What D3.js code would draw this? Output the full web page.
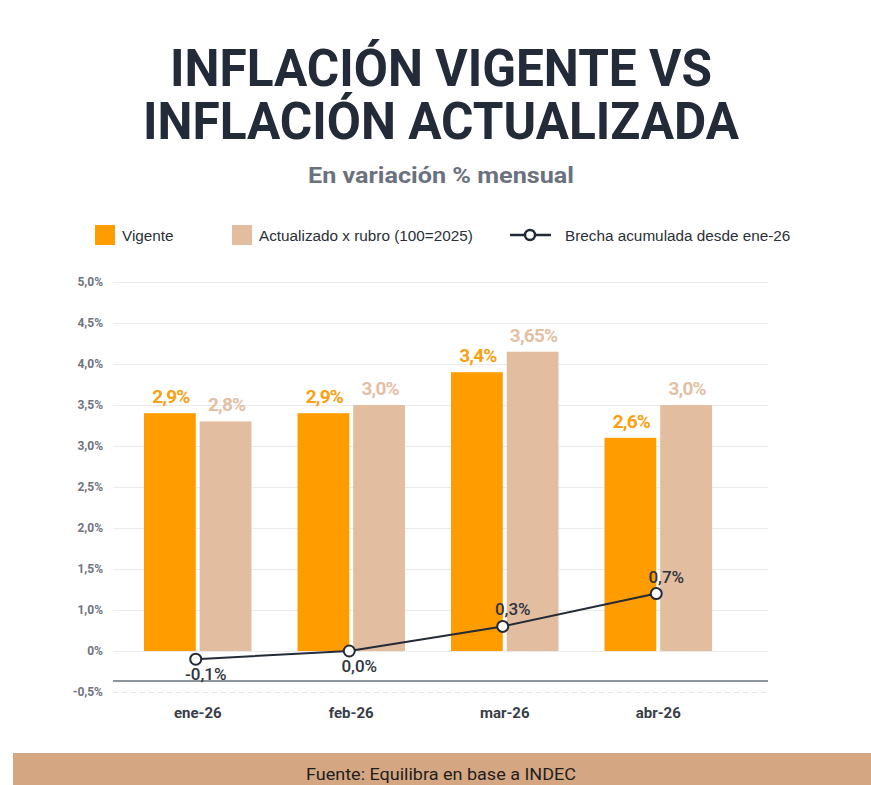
<!DOCTYPE html>
<html>
<head>
<meta charset="utf-8">
<script src="https://cdn.jsdelivr.net/npm/d3@7"></script>
<style>
  html, body { margin: 0; padding: 0; background: #fff; }
  svg { display: block; }
</style>
</head>
<body>
<div id="chart"></div>
<script>
// data
const months = ["ene-26", "feb-26", "mar-26", "abr-26"];
const vigente = [2.9, 2.9, 3.4, 2.6];
const actualizado = [2.8, 3.0, 3.65, 3.0];
const brecha = [-0.1, 0.0, 0.3, 0.7];
const seriesNames = ["Vigente", "Actualizado x rubro (100=2025)"];
const lineName = "Brecha acumulada desde ene-26";
// tick positions and the labels the original prints next to them
const tickValues = [-0.5, 0, 0.5, 1, 1.5, 2, 2.5, 3, 3.5, 4, 4.5];
const tickLabels = ["-0,5%", "0%", "1,0%", "1,5%", "2,0%", "2,5%", "3,0%", "3,5%", "4,0%", "4,5%", "5,0%"];

const width = 871, height = 785;
const colors = ["#ff9c00", "#e3bd9f"];
const labelColors = ["#f9a010", "#e3c0a4"];
const dark = "#232a38";

const svg = d3.select("#chart").append("svg")
    .attr("width", width)
    .attr("height", height);

svg.append("rect").attr("width", width).attr("height", height).attr("fill", "#fff");

// title
svg.append("text")
    .attr("x", 441).attr("y", 86)
    .attr("text-anchor", "middle")
    .attr("textLength", 542).attr("lengthAdjust", "spacingAndGlyphs")
    .style("font", "700 52px Roboto")
    .attr("fill", dark)
    .text("INFLACIÓN VIGENTE VS");
svg.append("text")
    .attr("x", 441).attr("y", 139)
    .attr("text-anchor", "middle")
    .attr("textLength", 596).attr("lengthAdjust", "spacingAndGlyphs")
    .style("font", "700 52px Roboto")
    .attr("fill", dark)
    .text("INFLACIÓN ACTUALIZADA");
svg.append("text")
    .attr("x", 441).attr("y", 183)
    .attr("text-anchor", "middle")
    .attr("textLength", 266).attr("lengthAdjust", "spacingAndGlyphs")
    .style("font", "700 22px Roboto")
    .attr("fill", "#6b717d")
    .text("En variación % mensual");

// legend
const legend = svg.append("g").style("font", "15.3px 'Liberation Sans', Arial, sans-serif").attr("fill", "#2b2f36");
[95, 232].forEach((lx, i) => {
  legend.append("rect").attr("x", lx).attr("y", 225).attr("width", 20).attr("height", 20).attr("fill", colors[i]);
  legend.append("text").attr("x", lx + 27).attr("y", 241).text(seriesNames[i]);
});
legend.append("line").attr("x1", 510).attr("x2", 551).attr("y1", 235).attr("y2", 235)
    .attr("stroke", dark).attr("stroke-width", 2.5);
legend.append("circle").attr("cx", 530).attr("cy", 235).attr("r", 5)
    .attr("fill", "#fff").attr("stroke", dark).attr("stroke-width", 2.5);
legend.append("text").attr("x", 565).attr("y", 241).text(lineName);

// scales
const gridLeft = 113, gridRight = 768, axisY = 681;
const y = d3.scaleLinear().domain([-0.5, 4.5]).range([692, 282]);
const x = d3.scaleBand().domain(months).range([121, 735]).paddingInner(0.3).paddingOuter(0.15);
const xs = d3.scaleBand().domain([0, 1]).range([0, x.bandwidth()]).paddingInner(0.07);

// grid + y labels
const yAxis = svg.append("g")
    .attr("transform", `translate(${gridLeft},0)`)
    .call(d3.axisLeft(y)
        .tickValues(tickValues)
        .tickFormat((d, i) => tickLabels[i])
        .tickSize(-(gridRight - gridLeft))
        .tickPadding(10))
    .call(g => g.select(".domain").remove());
yAxis.selectAll(".tick line")
    .attr("stroke", d => d === -0.5 ? "#e6e3ee" : "#ebebeb")
    .attr("stroke-dasharray", d => d === -0.5 ? "5,4" : null);
yAxis.selectAll(".tick text")
    .style("font", "700 12px Roboto")
    .attr("fill", "#6f7480");

// bars
const fmt = v => v.toFixed(Math.round(v * 100) % 10 === 0 ? 1 : 2).replace(".", ",") + "%";
const groups = svg.append("g").selectAll("g")
    .data(months.map((m, i) => ({ m, vals: [vigente[i], actualizado[i]] })))
    .join("g")
    .attr("transform", d => `translate(${x(d.m)},0)`);
groups.selectAll("rect")
    .data(d => d.vals)
    .join("rect")
    .attr("x", (d, i) => xs(i))
    .attr("width", xs.bandwidth())
    .attr("y", d => y(d))
    .attr("height", d => y(0) - y(d))
    .attr("fill", (d, i) => colors[i]);
groups.selectAll("text")
    .data(d => d.vals)
    .join("text")
    .attr("x", (d, i) => xs(i) + xs.bandwidth() / 2 + 1)
    .attr("y", d => y(d) - 10)
    .attr("text-anchor", "middle")
    .style("font", "700 19px Roboto")
    .style("letter-spacing", "-0.8px")
    .attr("fill", (d, i) => labelColors[i])
    .text(fmt);

// baseline
svg.append("line")
    .attr("x1", gridLeft).attr("x2", gridRight)
    .attr("y1", axisY).attr("y2", axisY)
    .attr("stroke", "#6b7380").attr("stroke-width", 1.5);

// x labels
svg.append("g")
    .attr("transform", `translate(0,${axisY})`)
    .call(d3.axisBottom(x).tickSize(0).tickPadding(26))
    .call(g => g.select(".domain").remove())
    .selectAll("text")
    .style("font", "700 15px Roboto")
    .attr("fill", "#383d47");

// line
const px = d => x(d) + x.bandwidth() / 2 - 2;
svg.append("path")
    .datum(brecha)
    .attr("fill", "none")
    .attr("stroke", dark)
    .attr("stroke-width", 2)
    .attr("d", d3.line().x((d, i) => px(months[i])).y(d => y(d)));
svg.append("g").selectAll("circle")
    .data(brecha)
    .join("circle")
    .attr("cx", (d, i) => px(months[i]))
    .attr("cy", d => y(d))
    .attr("r", 5.5)
    .attr("fill", "#fff")
    .attr("stroke", dark)
    .attr("stroke-width", 2);
svg.append("g").selectAll("text")
    .data(brecha)
    .join("text")
    .attr("x", (d, i) => px(months[i]) + 10)
    .attr("y", (d, i) => i < 2 ? y(d) + 21 : y(d) - 11)
    .attr("text-anchor", "middle")
    .style("font", "500 17px Roboto")
    .attr("fill", "#2f3440")
    .text(d => d.toFixed(1).replace(".", ",") + "%");

// footer
svg.append("rect").attr("x", 13).attr("y", 753).attr("width", width - 13).attr("height", 32).attr("fill", "#d4a681");
svg.append("text")
    .attr("x", 441).attr("y", 780)
    .attr("text-anchor", "middle")
    .attr("textLength", 270).attr("lengthAdjust", "spacingAndGlyphs")
    .style("font", "16px Roboto")
    .attr("fill", "#1e1e1e")
    .text("Fuente: Equilibra en base a INDEC");
</script>
</body>
</html>
